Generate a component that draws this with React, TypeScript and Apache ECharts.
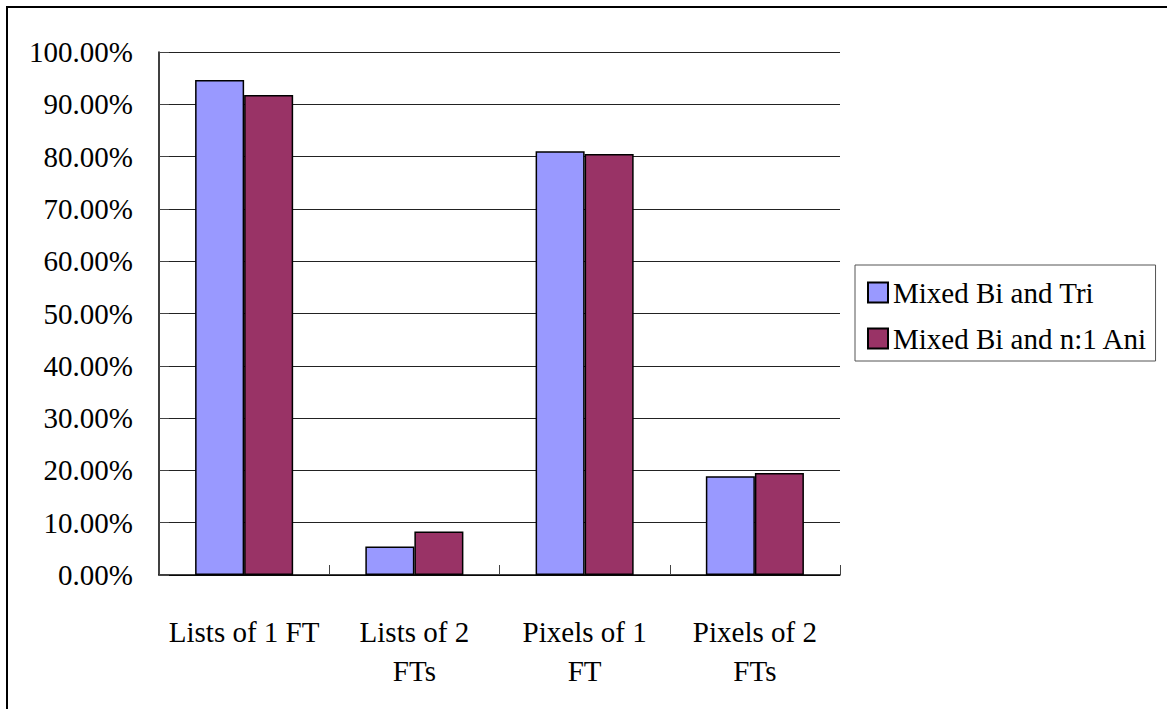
import React, { useEffect, useRef } from "react";
import * as echarts from "echarts";

// Categories along the x axis (two-line labels where they wrap)
const categories = ["Lists of 1 FT", "Lists of 2\nFTs", "Pixels of 1\nFT", "Pixels of 2\nFTs"];

// Series names and values (percent)
const seriesNames = ["Mixed Bi and Tri", "Mixed Bi and n:1 Ani"];
const mixedBiTri = [94.66, 5.46, 81.0, 18.9];
const mixedBiAni = [91.8, 8.32, 80.5, 19.5];

// Y axis range
const yMin = 0;
const yMax = 100;
const yStep = 10;

const FONT = "Times New Roman";

export default function App() {
  const ref = useRef<HTMLDivElement>(null);

  useEffect(() => {
    if (!ref.current) return;
    const chart = echarts.init(ref.current, undefined, { renderer: "svg" });
    chart.setOption({
      animation: false,
      grid: { left: 159, top: 52, right: 327, bottom: 134 },
      legend: {
        orient: "vertical",
        left: 855,
        top: 265,
        padding: [13, 8, 8, 12],
        itemGap: 17,
        itemWidth: 20,
        itemHeight: 20,
        borderColor: "#555",
        borderWidth: 1,
        icon: "rect",
        textStyle: { fontFamily: FONT, fontSize: 29, color: "#000" },
        data: seriesNames,
      },
      xAxis: {
        type: "category",
        data: categories,
        axisLine: { show: true, lineStyle: { color: "#000", width: 1.5 } },
        axisTick: { show: true, inside: true, length: 10, lineStyle: { color: "#444" } },
        axisLabel: {
          fontFamily: FONT,
          fontSize: 29,
          color: "#000",
          lineHeight: 39,
          margin: 37,
          interval: 0,
        },
      },
      yAxis: {
        type: "value",
        min: yMin,
        max: yMax,
        interval: yStep,
        axisLine: { show: true, lineStyle: { color: "#000", width: 1.5 } },
        axisTick: { show: true, inside: true, length: 10, lineStyle: { color: "#444" } },
        splitLine: { show: true, lineStyle: { color: "#222", width: 1 } },
        axisLabel: {
          fontFamily: FONT,
          fontSize: 29,
          color: "#000",
          margin: 26,
          formatter: (v: number) => v.toFixed(2) + "%",
        },
      },
      series: [
        {
          name: seriesNames[0],
          type: "bar",
          data: mixedBiTri,
          barWidth: "28.8%",
          barGap: "0%",
          itemStyle: { color: "#9999FF", borderColor: "#000", borderWidth: 1.5 },
        },
        {
          name: seriesNames[1],
          type: "bar",
          data: mixedBiAni,
          barWidth: "28.8%",
          barGap: "0%",
          itemStyle: { color: "#993366", borderColor: "#000", borderWidth: 1.5 },
        },
      ],
    });
    return () => chart.dispose();
  }, []);

  return (
    <div style={{ position: "fixed", left: 0, top: 0, width: 1167, height: 709, background: "#fff", overflow: "hidden" }}>
      {/* outer frame around the whole chart */}
      <div
        style={{
          position: "absolute",
          left: 6,
          top: 6,
          width: 1200,
          height: 740,
          border: "2px solid #000",
        }}
      />
      <div ref={ref} style={{ position: "absolute", left: 0, top: 0, width: 1167, height: 709 }} />
    </div>
  );
}
